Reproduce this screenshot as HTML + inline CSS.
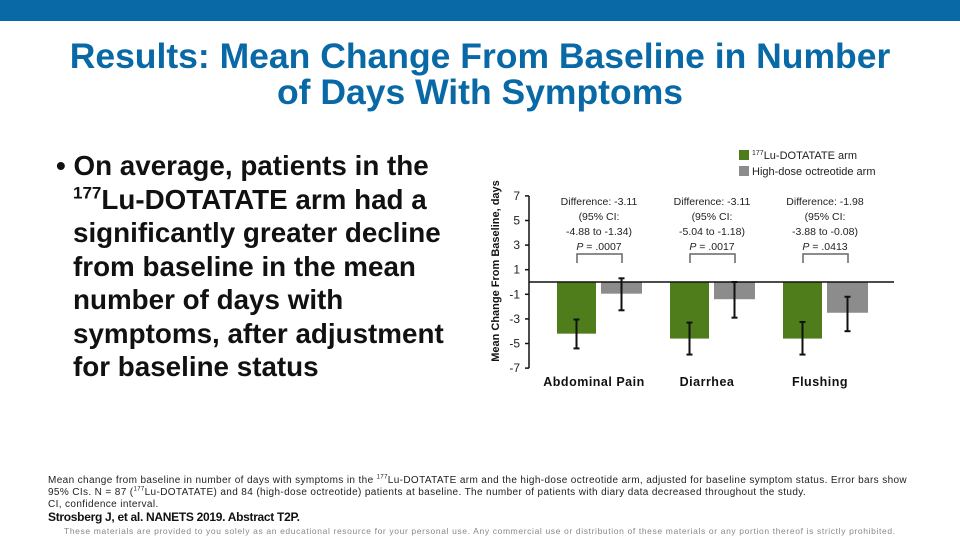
<!DOCTYPE html>
<html><head><meta charset="utf-8"><style>
body{margin:0;width:960px;height:540px;position:relative;background:#fff;font-family:"Liberation Sans",sans-serif;overflow:hidden}
.abs{position:absolute}
#topbar{left:0;top:0;width:960px;height:21px;background:#0869a6}
#title{left:0;width:960px;top:38px;text-align:center;color:#0869a6;font-weight:bold;font-size:35.5px;line-height:36px}
#bullet{left:56px;top:149px;width:420px;font-size:27.8px;font-weight:bold;line-height:33.5px;color:#111;white-space:nowrap}
#bullet .ind{padding-left:17px}
sup{line-height:0;vertical-align:super}
#notes{left:48px;top:475px;font-size:10px;line-height:12px;color:#222;width:900px;letter-spacing:0.37px;white-space:nowrap}
#cite{left:48px;top:510px;font-size:12px;font-weight:bold;color:#111;letter-spacing:-0.3px}
#legal{left:64px;top:526px;font-size:8.5px;color:#888;letter-spacing:0.63px;white-space:nowrap}
svg{position:absolute;left:0;top:0}
</style></head><body>
<div class="abs" id="topbar"></div>
<div class="abs" id="title">Results: Mean Change From Baseline in Number<br>of Days With Symptoms</div>
<div class="abs" id="bullet">• On average, patients in the<div class="ind"><sup style="font-size:17px">177</sup>Lu-DOTATATE arm had a<br>significantly greater decline<br>from baseline in the mean<br>number of days with<br>symptoms, after adjustment<br>for baseline status</div></div>
<svg width="960" height="540" id="chart"></svg>
<div class="abs" id="notes">Mean change from baseline in number of days with symptoms in the <sup style="font-size:6px">177</sup>Lu-DOTATATE arm and the high-dose octreotide arm, adjusted for baseline symptom status. Error bars show<br>95% CIs. N = 87 (<sup style="font-size:6px">177</sup>Lu-DOTATATE) and 84 (high-dose octreotide) patients at baseline. The number of patients with diary data decreased throughout the study.<br>CI, confidence interval.</div>
<div class="abs" id="cite">Strosberg J, et al. NANETS 2019. Abstract T2P.</div>
<div class="abs" id="legal">These materials are provided to you solely as an educational resource for your personal use. Any commercial use or distribution of these materials or any portion thereof is strictly prohibited.</div>
<script>
const categories=["Abdominal Pain","Diarrhea","Flushing"];
const luValues=[-4.2,-4.6,-4.6];
const luLow=[-5.4,-5.9,-5.9];
const luHigh=[-3.05,-3.3,-3.25];
const octValues=[-0.95,-1.4,-2.5];
const octLow=[-2.3,-2.9,-4.0];
const octHigh=[0.3,0.0,-1.2];
const diffLabels=[["Difference: -3.11","(95% CI:","-4.88 to -1.34)",".0007"],["Difference: -3.11","(95% CI:","-5.04 to -1.18)",".0017"],["Difference: -1.98","(95% CI:","-3.88 to -0.08)",".0413"]];
const yTicks=[7,5,3,1,-1,-3,-5,-7];
const NS="http://www.w3.org/2000/svg";
const svg=document.getElementById('chart');
const y0=282,ppu=12.3,axX=529;
function y(v){return y0-v*ppu;}
function xg(i){return 557+i*113;}
function mk(t,a,p){const e=document.createElementNS(NS,t);for(const k in a)e.setAttribute(k,a[k]);(p||svg).appendChild(e);return e;}
let e=mk('line',{x1:axX,x2:axX,y1:y(7),y2:y(-7),stroke:'#111','stroke-width':1.5});

yTicks.forEach(v=>{
 mk('line',{x1:axX-4,x2:axX,y1:y(v),y2:y(v),stroke:'#111','stroke-width':1.5});
 const t=mk('text',{x:axX-9,y:y(v)+4,'text-anchor':'end','font-size':12,fill:'#222'});t.textContent=v;
 
});
const yt=mk('text',{transform:'translate(499,271) rotate(-90)','text-anchor':'middle','font-size':11,'font-weight':'bold',fill:'#111'});
yt.textContent='Mean Change From Baseline, days';

function bar(x,w,v,lo,hi,col,nm){
 const r=mk('rect',{x:x,y:Math.min(y(v),y0),width:w,height:Math.abs(y(v)-y0),fill:col});
 
 const cx=x+w/2;
 const g=mk('g',{stroke:'#111','stroke-width':2});
 
 mk('line',{x1:cx,x2:cx,y1:y(hi),y2:y(lo)},g);
 mk('line',{x1:cx-3,x2:cx+3,y1:y(hi),y2:y(hi)},g);
 mk('line',{x1:cx-3,x2:cx+3,y1:y(lo),y2:y(lo)},g);
}
categories.forEach((c,i)=>{
 const x=xg(i);
 bar(x,39,luValues[i],luLow[i],luHigh[i],'#4f7d1c','bar-lu-'+i);
 bar(x+44,41,octValues[i],octLow[i],octHigh[i],'#8c8c8c','bar-oct-'+i);
 const t=mk('text',{x:x+37,y:386,'text-anchor':'middle','font-size':12.5,'font-weight':'bold',fill:'#111','letter-spacing':'0.5'});t.textContent=c;
 
 const cx=x+42;
 diffLabels[i].forEach((s,k)=>{
  const tt=mk('text',{x:cx,y:205+k*15,'text-anchor':'middle','font-size':10.5,fill:'#222'});
  if(k==3){const it=mk('tspan',{'font-style':'italic'},tt);it.textContent='P';const r=mk('tspan',{},tt);r.textContent=' = '+s;}
  else tt.textContent=s;
  
 });
 const b=mk('path',{d:`M${x+20} 263 V254 H${x+65} V263`,fill:'none',stroke:'#666','stroke-width':1.5});
 
});
e=mk('line',{x1:axX,x2:894,y1:y0,y2:y0,stroke:'#111','stroke-width':1.5});

[['#4f7d1c','Lu-DOTATATE arm',153,'177'],['#8c8c8c','High-dose octreotide arm',169,'']].forEach(([c,s,yy,sup])=>{
 const g=mk('g',{});
 mk('rect',{x:739,y:yy-3,width:10,height:10,fill:c},g);
 const t=mk('text',{x:752,y:yy+6,'font-size':11,fill:'#222'},g);
 if(sup){const a=mk('tspan',{'font-size':7,dy:-4},t);a.textContent=sup;const b2=mk('tspan',{dy:4},t);b2.textContent=s;}else t.textContent=s;
});
</script>
</body></html>
